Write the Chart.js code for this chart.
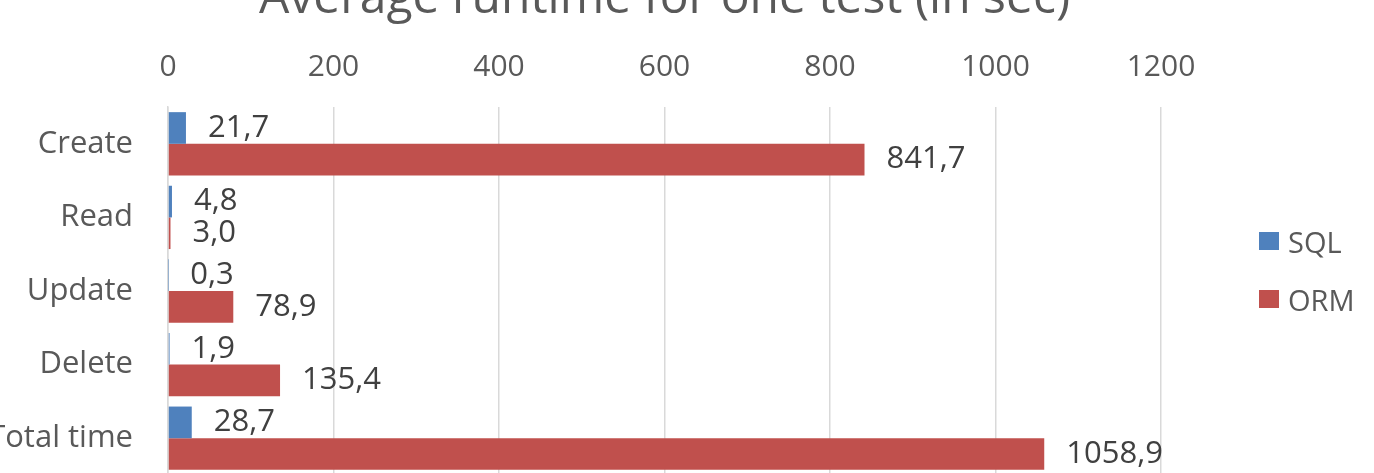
<!DOCTYPE html>
<html>
<head>
<meta charset="utf-8">
<script src="https://cdn.jsdelivr.net/npm/chart.js@4.4.1/dist/chart.umd.min.js"></script>
<style>
html, body { margin: 0; padding: 0; background: #fff; overflow: hidden; }
#runtimeChart { position: absolute; left: 0; top: -25px; }
#legend { position: absolute; left: 1259px; top: 212px; font-family: "Open Sans", sans-serif; font-size: 29px; color: #595959; }
.item { display: flex; align-items: center; height: 58px; }
.box { width: 20px; height: 18px; margin-right: 9px; }
</style>
</head>
<body>
<canvas id="runtimeChart" width="1374" height="500"></canvas>
<div id="legend"></div>
<script>
var categories = ["Create", "Read", "Update", "Delete", "Total time"];
var seriesNames = ["SQL", "ORM"];
var sqlTimes = [21.7, 4.8, 0.3, 1.9, 28.7];
var ormTimes = [841.7, 3.0, 78.9, 135.4, 1058.9];
var xTicks = [0, 200, 400, 600, 800, 1000, 1200];
var colors = ["#4F81BD", "#C0504D"];

// writes the value next to the end of each bar, with a decimal comma
var valueLabels = {
    id: 'valueLabels',
    afterDatasetsDraw: function(chart) {
        var ctx = chart.ctx;
        ctx.save();
        ctx.font = '31px "Open Sans"';
        ctx.fillStyle = '#404040';
        ctx.textBaseline = 'middle';
        ctx.textAlign = 'left';
        chart.data.datasets.forEach(function(ds, i) {
            chart.getDatasetMeta(i).data.forEach(function(bar, j) {
                ctx.fillText(ds.data[j].toFixed(1).replace('.', ','), bar.x + 22, bar.y);
            });
        });
        ctx.restore();
    }
};

function drawLegend() {
    var ui = "";
    for (var i = 0; i < seriesNames.length; i++) {
        ui += '<div class="item"><span class="box" style="background:' + colors[i] + '"></span>' + seriesNames[i] + '</div>';
    }
    document.getElementById("legend").innerHTML = ui;
}

function drawChart() {
    Chart.defaults.font.family = '"Open Sans", sans-serif';
    Chart.defaults.color = '#595959';
    new Chart(document.getElementById("runtimeChart"), {
        type: 'bar',
        data: {
            labels: categories,
            datasets: [{
                label: seriesNames[0],
                data: sqlTimes,
                backgroundColor: colors[0],
                categoryPercentage: 0.86,
                barPercentage: 1.0
            }, {
                label: seriesNames[1],
                data: ormTimes,
                backgroundColor: colors[1],
                categoryPercentage: 0.86,
                barPercentage: 1.0
            }]
        },
        options: {
            indexAxis: 'y',
            animation: false,
            responsive: false,
            devicePixelRatio: 1,
            layout: { padding: { left: 0, right: 213, top: 0, bottom: 0 } },
            plugins: {
                legend: { display: false },
                tooltip: { enabled: false },
                title: {
                    display: true,
                    text: 'Average runtime for one test (in sec)',
                    fullSize: false,
                    color: '#595959',
                    font: { size: 48, weight: 'normal', lineHeight: 1.0 },
                    padding: { top: 0, bottom: 0 }
                }
            },
            scales: {
                x: {
                    position: 'top',
                    min: xTicks[0],
                    max: xTicks[xTicks.length - 1],
                    afterBuildTicks: function(scale) {
                        scale.ticks = xTicks.map(function(v) { return { value: v }; });
                    },
                    afterFit: function(scale) { scale.height = 84; },
                    ticks: {
                        font: { size: 30 },
                        padding: 22,
                        callback: function(v) { return String(v); }
                    },
                    grid: { color: '#d9d9d9', lineWidth: 1.5, drawTicks: false },
                    border: { display: false }
                },
                y: {
                    afterFit: function(scale) {
                        scale.width = 168;
                        // the label padding should not shrink the plot at the bottom
                        scale.paddingTop = 0;
                        scale.paddingBottom = 0;
                    },
                    ticks: { font: { size: 31 }, padding: 35 },
                    grid: { display: false, drawTicks: false },
                    border: { color: '#d9d9d9', width: 1.5 }
                }
            }
        },
        plugins: [valueLabels]
    });
    drawLegend();
}

document.fonts.load('30px "Open Sans"').then(drawChart, drawChart);
</script>
</body>
</html>
